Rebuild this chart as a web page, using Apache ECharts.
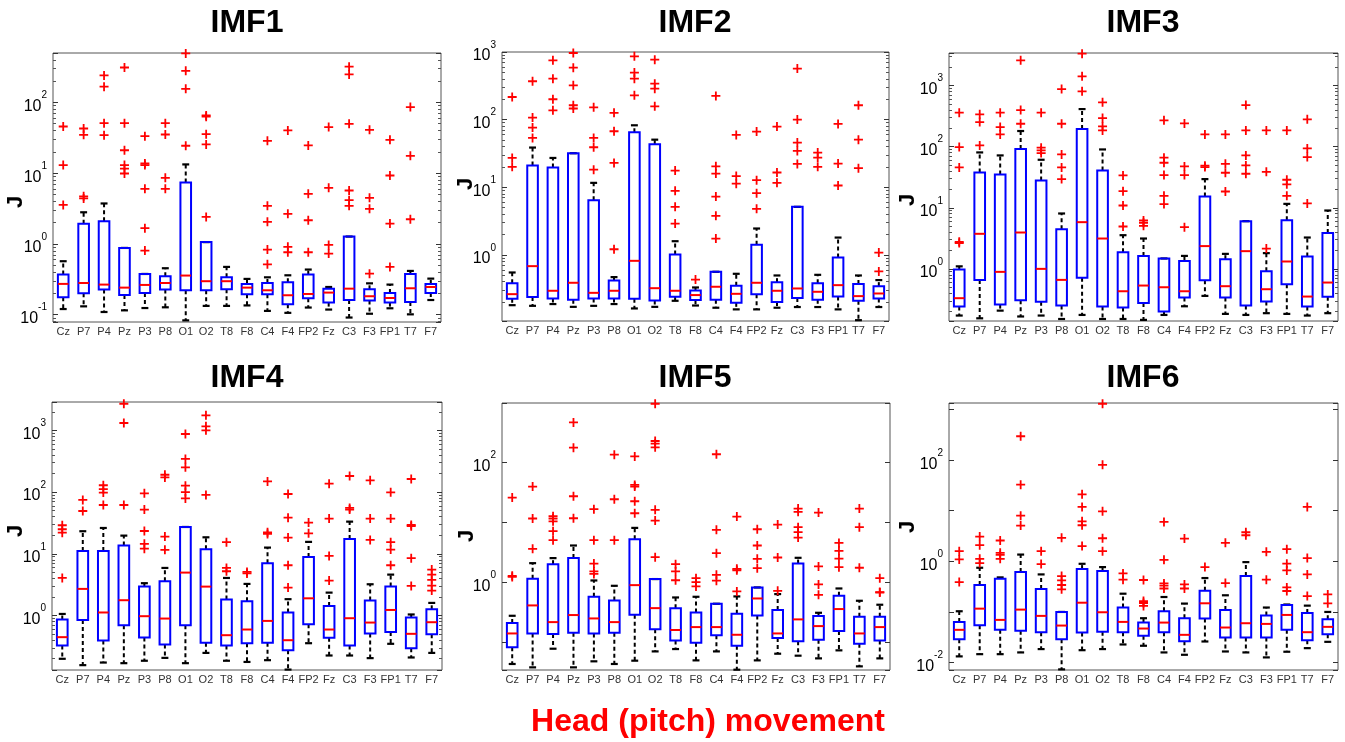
<!DOCTYPE html>
<html><head><meta charset="utf-8">
<script src="https://cdn.jsdelivr.net/npm/echarts/dist/echarts.min.js"></script>
<style>html,body{margin:0;padding:0;background:#fff}#c{width:1345px;height:742px}</style>
</head><body><div id="c"></div><script>
const channels = ['Cz','P7','P4','Pz','P3','P8','O1','O2','T8','F8','C4','F4','FP2','Fz','C3','F3','FP1','T7','F7'];
const panelTitles = ['IMF1','IMF2','IMF3','IMF4','IMF5','IMF6'];
const xTitle = 'Head (pitch) movement';
const yTitle = 'J';
const yMin = [0.0787, 0.105, 0.14, 0.131, 0.0346, 0.0071];
const yMax = [500, 1000, 3430, 2880, 990, 1350];
const labelStep = [1, 1, 1, 1, 2, 2];

// box stats per channel: [lower whisker, Q1, median, Q3, upper whisker]
const imf1Box = [[0.12,0.176,0.272,0.368,0.569],[0.131,0.2,0.28,1.92,2.8],[0.109,0.226,0.266,2.09,3.73],[0.115,0.19,0.241,0.877,0.877],[0.124,0.203,0.263,0.376,0.376],[0.127,0.226,0.28,0.348,0.453],[0.083,0.221,0.357,7.38,13.3],[0.133,0.221,0.297,1.06,1.06],[0.133,0.228,0.297,0.337,0.473],[0.135,0.194,0.241,0.272,0.32],[0.113,0.194,0.221,0.28,0.337],[0.106,0.14,0.188,0.287,0.36],[0.126,0.17,0.196,0.368,0.434],[0.118,0.148,0.205,0.233,0.246],[0.091,0.161,0.233,1.27,1.27],[0.103,0.158,0.182,0.228,0.277],[0.123,0.148,0.172,0.203,0.266],[0.101,0.151,0.236,0.376,0.415],[0.161,0.203,0.246,0.272,0.323]];
const imf1Out = [[45.7,13,3.56],[42.8,34.9,4.7,4.4],[241,167,51,34.5],[312,51,21.1,13,11.6,9.9],[33.4,13.7,13,6,1.67,0.805],[51,35.2,8.6,6],[493,280,156,24.4],[65.5,63,35.6,25.5,2.41],[],[],[28.7,3.45,2.05,0.831,0.515],[40.2,2.66,0.908,0.762],[24.7,5.1,2.16,0.762],[44.8,6.2,0.969,0.73],[320,249,49.9,5.69,4.15,3.45],[41,4.48,3.13,0.38],[29.6,9.27,1.94,0.473],[85.9,17.6,2.23],[]];

const imf2Box = [[0.18,0.224,0.262,0.381,0.548],[0.176,0.237,0.68,20.9,38.6],[0.187,0.226,0.294,19.5,27.1],[0.17,0.216,0.386,31.8,31.8],[0.176,0.226,0.274,6.43,11.6],[0.187,0.226,0.294,0.418,0.468],[0.161,0.224,0.815,65,82.4],[0.17,0.211,0.321,43.2,50.5],[0.209,0.239,0.294,1.01,1.59],[0.178,0.214,0.254,0.297,0.329],[0.165,0.216,0.337,0.561,0.561],[0.156,0.195,0.265,0.348,0.524],[0.156,0.262,0.386,1.41,2.45],[0.165,0.2,0.294,0.394,0.495],[0.169,0.229,0.318,5.12,5.12],[0.169,0.216,0.284,0.381,0.506],[0.156,0.242,0.356,0.914,1.8],[0.108,0.209,0.245,0.369,0.495],[0.169,0.226,0.268,0.344,0.423]];
const imf2Out = [[216,27.1,20],[369,107,76.2,53.6],[753,403,200,137],[966,586,321,163,146],[152,53.6,39,18.2],[126,67.3,22.9,1.21],[863,496,403,229],[771,340,287,157],[17.6,8.83,5.12,2.9],[0.431],[224,20.4,15.9,7.28,3.77,1.74],[59.3,14.6,11.3],[66.5,12.7,8.15,4.79],[78.9,16.5,11.6],[568,100,45.7,34.4,22.1],[32.5,27.4,20],[86.3,22.4,10.6],[163,50.5,19.1],[1.08,0.568]];

const imf3Box = [[0.172,0.241,0.331,0.975,1.1],[0.155,0.66,3.75,37.9,80.7],[0.207,0.26,0.893,35.2,72.1],[0.166,0.306,3.94,91.6,181],[0.172,0.288,1.0,28.1,61.2],[0.151,0.251,0.66,4.47,8.07],[0.176,0.712,5.82,195,414],[0.151,0.241,3.14,40.9,90.3],[0.151,0.232,0.43,1.87,3.56],[0.146,0.277,0.533,1.63,3.14],[0.176,0.2,0.5,1.48,1.48],[0.244,0.339,0.43,1.35,1.63],[0.361,0.652,2.36,15.3,29.5],[0.183,0.339,0.52,1.44,1.76],[0.176,0.251,1.95,6.04,6.04],[0.188,0.291,0.464,0.916,1.81],[0.183,0.561,1.32,6.28,11.6],[0.172,0.241,0.352,1.59,3.26],[0.188,0.348,0.597,3.85,9.03]];
const imf3Out = [[361,98.8,45.8,2.77,2.65],[339,254,105],[361,210,159],[2600,399,238],[361,96.4,87.1,78.7],[881,238,74.8,45.8,29.5],[3350,1423,807],[533,295,215,185],[33.9,18.7,10.9,4.94],[6.2,5.67,5.07],[271,66.1,54.7,34.4,15.7,11.5],[241,47.6,34.4,4.82],[159,48.9,46.4],[159,52.6,37.5,18.5],[482,185,72.1,49.4,36.1],[185,38.9,2.15],[185,28.8,24.2,15.7],[281,94,67.8,11.8],[]];

const imf4Box = [[0.199,0.327,0.446,0.861,1.06],[0.157,0.849,2.7,11.1,23.2],[0.173,0.394,1.12,11.1,26.2],[0.169,0.697,1.77,13.6,19.7],[0.185,0.44,0.975,2.94,3.34],[0.206,0.339,0.893,3.59,5.9],[0.169,0.697,4.96,27.2,27.2],[0.248,0.361,2.94,11.8,18.5],[0.185,0.327,0.48,1.81,4.06],[0.177,0.356,0.593,1.71,3.25],[0.189,0.361,0.818,7.03,12.6],[0.133,0.274,0.398,1.12,1.84],[0.356,0.723,1.9,8.9,15.6],[0.225,0.435,0.593,1.43,2.35],[0.225,0.327,0.904,17.4,33.2],[0.204,0.51,0.769,1.75,3.21],[0.348,0.543,1.23,2.94,4.6],[0.209,0.296,0.505,0.927,1.04],[0.248,0.498,0.779,1.26,1.6]];
const imf4Out = [[29,25,22,4.06],[74.5,49.4],[129,112,98,61.8],[2700,1315,61.8],[95.5,52,23.4,14.5,12.1],[191,173,19,11.6],[873,344,252,127,100,79],[1750,1161,1000,89.8],[15.4,5.9,5.21],[5.08,4.8],[149,22.3,21],[93,38.5,18.3,6.52,2.84],[32,21.5],[137,37.2,9.23,3.68],[182,55.4,52],[155,37.2,16.8],[99,37.2,15.4,11.7,6.52],[163,29.3,28,8.48,3.02],[5.55,4.6,3.78,3.06,2.54]];

const imf5Box = [[0.0436,0.0826,0.141,0.21,0.278],[0.0383,0.141,0.414,1.15,2.1],[0.0784,0.138,0.218,2.02,2.55],[0.0383,0.145,0.286,2.55,4.14],[0.0483,0.141,0.251,0.577,1.08],[0.0436,0.145,0.218,0.501,0.88],[0.0495,0.289,0.903,5.27,8.15],[0.0707,0.165,0.373,1.14,1.14],[0.0774,0.107,0.161,0.373,0.562],[0.0501,0.0987,0.18,0.316,0.577],[0.0707,0.132,0.18,0.441,0.441],[0.035,0.088,0.134,0.301,0.585],[0.0501,0.282,0.541,0.826,0.826],[0.0647,0.118,0.141,0.346,0.64],[0.06,0.104,0.242,2.07,2.58],[0.0541,0.111,0.187,0.275,0.312],[0.0736,0.155,0.36,0.6,0.794],[0.0398,0.095,0.141,0.268,0.495],[0.0541,0.107,0.18,0.268,0.425]];
const imf5Out = [[26.1,1.29,1.24],[39.8,11.7,3.64],[12.8,11.7,10.5,7.18,5.08],[470,178,27.5,11.8],[16.7,5.08,2.07,1.53,1.39],[136,24.5,5.08],[127,42.5,39.8,22.7,14.3],[961,230,207,180,16.3,10.8,2.64],[2.02,1.53,1.09],[1.18,1.01,0.858],[138,7.55,3.08,1.34,1.07],[12.6,1.69,1.6,0.708],[7.74,4.14,2.48,1.73],[9.26,2.61,0.726],[17.1,15.1,8.36,6.9,5.62],[14.7,1.85,0.927,0.622],[4.58,3.37,2.51,1.8],[17.1,8.36,1.76],[1.18,0.691,0.68]];

const imf6Box = [[0.0132,0.0289,0.0442,0.0634,0.103],[0.0146,0.0546,0.116,0.34,0.746],[0.0146,0.0442,0.0695,0.453,0.481],[0.0158,0.0422,0.111,0.612,1.36],[0.0184,0.0397,0.0834,0.283,0.551],[0.0073,0.0289,0.0537,0.0998,0.0998],[0.0175,0.0391,0.152,0.702,0.893],[0.0184,0.0403,0.0984,0.641,0.769],[0.0227,0.0397,0.0634,0.122,0.229],[0.0214,0.0337,0.0469,0.0615,0.075],[0.0158,0.0397,0.0615,0.103,0.197],[0.0142,0.0264,0.0352,0.075,0.146],[0.026,0.0738,0.148,0.263,0.467],[0.0165,0.0312,0.0491,0.109,0.213],[0.0158,0.0312,0.0597,0.511,0.964],[0.0126,0.0312,0.0579,0.0846,0.122],[0.0163,0.0442,0.0871,0.137,0.14],[0.0192,0.0276,0.0397,0.0955,0.133],[0.0256,0.0362,0.0506,0.0716,0.0998]];
const imf6Out = [[1.59,1.09,0.389],[3.09,2.09,1.12,0.922],[2.58,1.47,1.34,1.12],[297,32.7,8,5.08],[1.59,0.881],[2.91,0.511,0.42,0.34,0.279],[21.1,11.9,6.19,5.17,2],[1306,80.9,9.75,2.86,1.59],[0.577,0.433],[0.427,0.164,0.15,0.131],[6.02,1.07,0.366,0.33,0.29],[2.82,0.35,0.29],[0.769],[2.32,0.372],[3.76,3.28],[1.54,0.433],[1.74,0.9,0.66,0.305,0.259],[11.9,1.16,0.551,0.206],[0.222,0.148]];

const boxes = [imf1Box, imf2Box, imf3Box, imf4Box, imf5Box, imf6Box];
const outs = [imf1Out, imf2Out, imf3Out, imf4Out, imf5Out, imf6Out];

// layout (pixels)
const gridPos = [
  {left:53, top:53, width:388, height:269},
  {left:502, top:52, width:387, height:269},
  {left:949, top:53, width:389, height:268},
  {left:52, top:402, width:390, height:268},
  {left:502, top:403, width:388, height:267},
  {left:949, top:403, width:389, height:267}];
const titlePos = [[247,23],[695,23],[1143,23],[247,378],[695,378],[1143,378]];
const yTitlePos = [[16,202],[466,184],[908,200],[16,531],[467,536],[908,527]];

const FONT = 'Liberation Sans, Arial, Helvetica, sans-serif';
const PLUS = 'path://M4,0L6,0L6,4L10,4L10,6L6,6L6,10L4,10L4,6L0,6L0,4L4,4Z';

function makeFmt(step) {
  return function (v) {
    const e = Math.log10(v);
    const r = Math.round(e);
    if (Math.abs(e - r) > 1e-6) return '';
    if (r % step !== 0) return '';
    return '{b|10}{s|' + r + '}';
  };
}

function renderBox(params, api) {
  const i = api.value(0);
  const band = params.coordSys.width / channels.length;
  const cx = api.coord([i, api.value(3)])[0];
  const y = [1, 2, 3, 4, 5].map(d => api.coord([i, api.value(d)])[1]);
  const hw = band * 0.26, cap = band * 0.17;
  const dash = {stroke: '#000', lineWidth: 2, lineDash: [4, 3], fill: null};
  const solid = {stroke: '#000', lineWidth: 2.2, fill: null};
  return {type: 'group', children: [
    {type: 'line', shape: {x1: cx, y1: y[3], x2: cx, y2: y[4]}, style: dash},
    {type: 'line', shape: {x1: cx, y1: y[1], x2: cx, y2: y[0]}, style: dash},
    {type: 'line', shape: {x1: cx - cap, y1: y[4], x2: cx + cap, y2: y[4]}, style: solid},
    {type: 'line', shape: {x1: cx - cap, y1: y[0], x2: cx + cap, y2: y[0]}, style: solid},
    {type: 'rect', shape: {x: cx - hw, y: y[3], width: 2 * hw, height: y[1] - y[3]}, style: {fill: null, stroke: '#0000ff', lineWidth: 2}},
    {type: 'line', shape: {x1: cx - hw, y1: y[2], x2: cx + hw, y2: y[2]}, style: {stroke: '#ff0000', lineWidth: 2}}
  ]};
}

const grid = [], xAxis = [], yAxis = [], series = [], graphic = [];
for (let p = 0; p < 6; p++) {
  grid.push(Object.assign({show: true, borderColor: '#555', borderWidth: 1, backgroundColor: '#fff', containLabel: false, outerBoundsMode: 'none'}, gridPos[p]));
  xAxis.push({type: 'category', gridIndex: p, data: channels, boundaryGap: true,
    axisTick: {show: false}, axisLine: {show: false}, splitLine: {show: false},
    axisLabel: {interval: 0, margin: 4, fontSize: 11, color: '#333', fontFamily: FONT}});
  const yBase = {type: 'log', logBase: 10, gridIndex: p, min: yMin[p], max: yMax[p],
    axisLine: {show: false}, splitLine: {show: false},
    axisTick: {show: true, inside: true, length: 5, lineStyle: {color: '#333', width: 1}},
    minorTick: {show: labelStep[p] === 1, splitNumber: 9, length: 3, lineStyle: {color: '#555', width: 1}},
    minorSplitLine: {show: false}};
  yAxis.push(Object.assign({}, yBase, {position: 'left',
    axisLabel: {margin: 6, formatter: makeFmt(labelStep[p]),
      rich: {b: {fontSize: 16, lineHeight: 24, color: '#000', fontFamily: FONT, verticalAlign: 'bottom'},
             s: {fontSize: 10, lineHeight: 10, color: '#000', fontFamily: FONT, verticalAlign: 'bottom', padding: [0, 0, 14, 0]}}}}));
  yAxis.push(Object.assign({}, yBase, {position: 'right', axisLabel: {show: false}}));
  series.push({type: 'custom', xAxisIndex: p, yAxisIndex: 2 * p, silent: true, z: 2,
    data: boxes[p].map((b, i) => [i].concat(b)), encode: {x: 0, y: [1, 2, 3, 4, 5]}, renderItem: renderBox});
  const pts = [];
  outs[p].forEach((arr, i) => arr.forEach(v => pts.push([i, v])));
  series.push({type: 'scatter', xAxisIndex: p, yAxisIndex: 2 * p, silent: true, z: 3,
    data: pts, symbol: PLUS, symbolSize: 9, itemStyle: {color: '#ff0000', opacity: 1}});
  graphic.push({type: 'text', x: titlePos[p][0], y: titlePos[p][1], z: 10,
    style: {text: panelTitles[p], font: 'bold 32px ' + FONT, fill: '#000', textAlign: 'center', textVerticalAlign: 'middle', align: 'center', verticalAlign: 'middle'}});
  graphic.push({type: 'text', x: yTitlePos[p][0], y: yTitlePos[p][1], rotation: Math.PI / 2, z: 10,
    style: {text: yTitle, font: 'bold 22px ' + FONT, fill: '#000', textAlign: 'center', textVerticalAlign: 'middle', align: 'center', verticalAlign: 'middle'}});
}
graphic.push({type: 'text', x: 708, y: 722, z: 10,
  style: {text: xTitle, font: 'bold 32px ' + FONT, fill: '#ff0000', textAlign: 'center', textVerticalAlign: 'middle', align: 'center', verticalAlign: 'middle'}});

const chart = echarts.init(document.getElementById('c'), null, {renderer: 'canvas'});
chart.setOption({animation: false, backgroundColor: '#fff', grid, xAxis, yAxis, series, graphic});
</script></body></html>
